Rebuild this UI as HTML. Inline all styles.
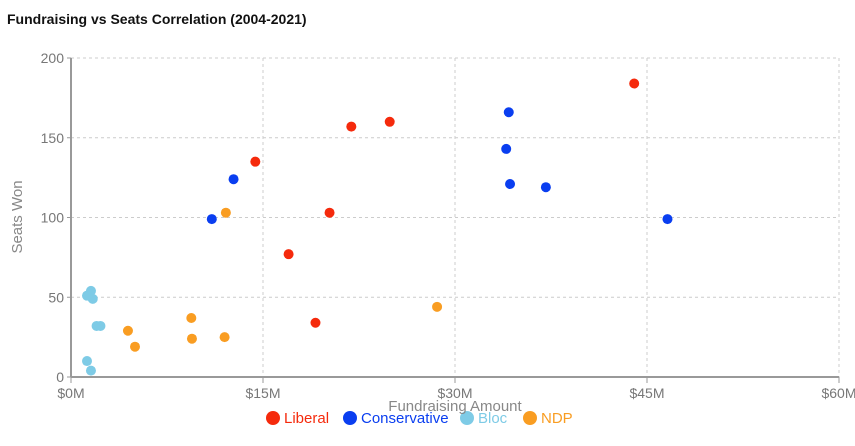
<!DOCTYPE html>
<html><head><meta charset="utf-8"><style>
body{margin:0;background:#fff;font-family:"Liberation Sans",sans-serif}
svg text{font-family:"Liberation Sans",sans-serif}
</style></head><body>
<svg width="855" height="441">
<text x="7" y="24" font-size="14" font-weight="bold" fill="#111">Fundraising vs Seats Correlation (2004-2021)</text>
<g id="grid"></g><g id="axes"></g><g id="marks"></g><g id="legend"></g>
<text x="455" y="411" font-size="15" fill="#888" text-anchor="middle">Fundraising Amount</text>
<text transform="translate(22,217) rotate(-90)" font-size="15" fill="#888" text-anchor="middle">Seats Won</text>
</svg>
<script>
const parties=["Liberal","Conservative","Bloc","NDP"];
const colors=["#f52a0c","#0a3ef0","#7ecbe6","#f99d22"];
const liberalX=[14.4,21.9,24.9,20.2,17.0,19.1,44.0];
const liberalY=[135,157,160,103,77,34,184];
const conservativeX=[12.7,11.0,34.2,34.0,34.3,37.1,46.6];
const conservativeY=[124,99,166,143,121,119,99];
const blocX=[1.56,1.25,1.7,2.0,2.3,1.25,1.56];
const blocY=[54,51,49,32,32,10,4];
const ndpX=[4.45,5.0,9.4,9.45,12.0,12.1,28.6];
const ndpY=[29,19,37,24,25,103,44];
const xTicks=[0,15,30,45,60];
const xTickLabels=["$0M","$15M","$30M","$45M","$60M"];
const yTicks=[0,50,100,150,200];
const NS="http://www.w3.org/2000/svg";
const X0=71,X1=839,Y0=377,Y1=58;
const sx=v=>X0+(v/60)*(X1-X0), sy=v=>Y0-(v/200)*(Y0-Y1);
function mk(tag,attrs,parent){const e=document.createElementNS(NS,tag);for(const k in attrs)e.setAttribute(k,attrs[k]);document.getElementById(parent).appendChild(e);return e;}
xTicks.forEach((t,i)=>{
 if(t>0){const g=mk("line",{x1:sx(t),x2:sx(t),y1:Y1,y2:Y0,stroke:"#ccc","stroke-dasharray":"3,3"},"grid");
 
 }
 const tk=mk("line",{x1:sx(t),x2:sx(t),y1:Y0,y2:Y0+6,stroke:"#999"},"axes");
 
 
 const l=mk("text",{x:sx(t),y:Y0+21,"font-size":14,fill:"#777","text-anchor":"middle"},"axes");l.textContent=xTickLabels[i];
 
 
});
yTicks.forEach(t=>{
 if(t>0){const g=mk("line",{x1:X0,x2:X1,y1:sy(t),y2:sy(t),stroke:"#ccc","stroke-dasharray":"3,3"},"grid");
 
 }
 const tk=mk("line",{x1:X0-4,x2:X0,y1:sy(t),y2:sy(t),stroke:"#999"},"axes");
 
 
 const l=mk("text",{x:X0-7,y:sy(t)+5,"font-size":14,fill:"#777","text-anchor":"end"},"axes");l.textContent=t;
 
 
});
const xa=mk("line",{x1:X0,x2:X1,y1:Y0,y2:Y0,stroke:"#999","stroke-width":2},"axes");


const ya=mk("line",{x1:X0,x2:X0,y1:Y1,y2:Y0,stroke:"#999","stroke-width":2},"axes");


const series=[[liberalX,liberalY],[conservativeX,conservativeY],[blocX,blocY],[ndpX,ndpY]];
series.forEach((s,i)=>{s[0].forEach((x,j)=>{
 const c=mk("circle",{cx:sx(x),cy:sy(s[1][j]),r:5,fill:colors[i]},"marks");
 
 
});});
const lx=[273,350,467,530];
parties.forEach((p,i)=>{
 const c=mk("circle",{cx:lx[i],cy:418,r:7,fill:colors[i]},"legend");
 
 
 const t=mk("text",{x:lx[i]+11,y:423,"font-size":15,fill:colors[i]},"legend");t.textContent=p;
 
 
});
</script>
</body></html>
